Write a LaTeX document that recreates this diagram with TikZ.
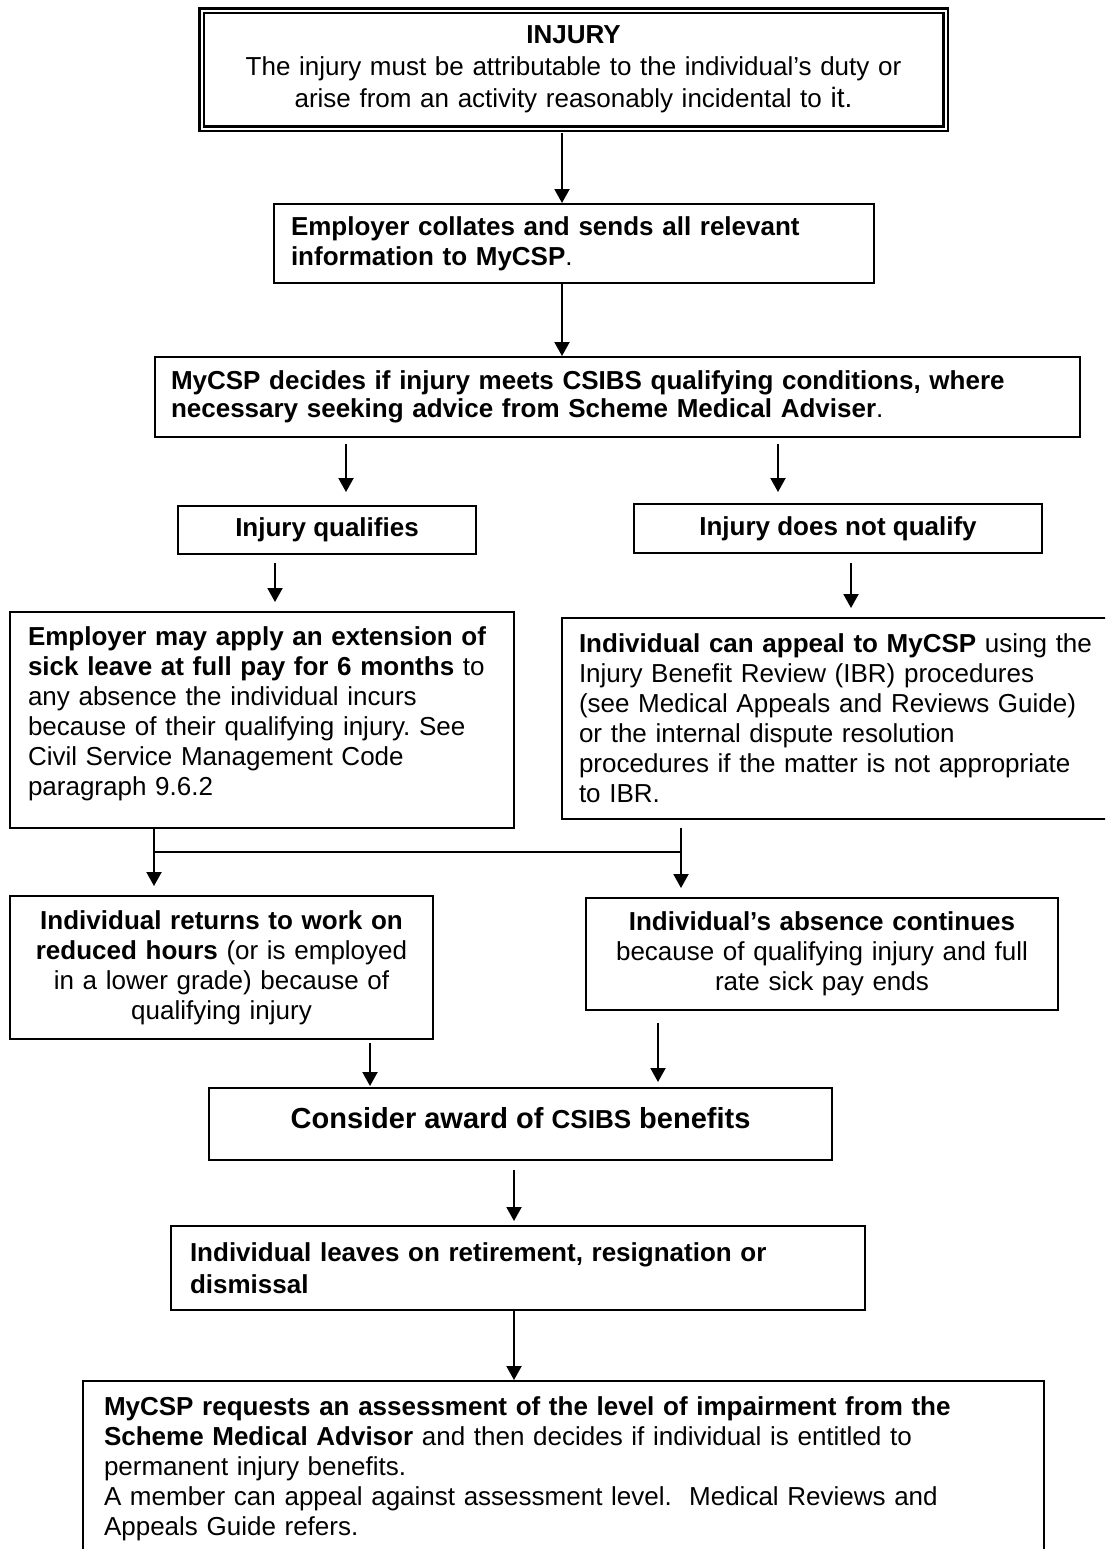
\documentclass[tikz,border=0pt]{standalone}
\usepackage{fontspec}
\setmainfont{Liberation Sans}
\usetikzlibrary{arrows.meta}
\frenchspacing

\tikzset{
	box/.style={draw, line width=1pt, inner ysep=0pt, font=\fontsize{13}{15}\selectfont},
	dbox/.style={box, double, double distance=1pt, line width=1.1pt},
}

\begin{document}
\begin{tikzpicture}[x=0.5pt, y=-0.5pt,
				>={Triangle[length=7pt,width=7.5pt]},   %Pfeilspitzen
				line width=1pt]
				% Bildbereich
				\useasboundingbox[fill=white] (0,0) rectangle (1105,1549);
				\clip (0,0) rectangle (1105,1549);
				% Spalten der Pfeile
				\foreach \n/\x in {c/562,l/346,r/778,ql/275,qr/851,jl/154,jr/681,cl/370,cr/658,m/514} \coordinate (\n) at (\x,0);
				\coordinate (fork) at (0,852);
				% Kaesten
				\node[dbox, text width=352pt, inner xsep=10pt, minimum height=59pt, align=center, font=\fontsize{13}{16}\selectfont] (injury) at (573.5,69.5)
					{\textbf{INJURY}\\The injury must be attributable to the individual’s duty or\\arise from an activity reasonably incidental to {\fontsize{14}{16}\selectfont it.}};
				\node[box, text width=283pt, inner xsep=8.5pt, minimum height=39.5pt, align=left] (collate) at (574,243.5)
					{\textbf{Employer collates and sends all relevant}\\\textbf{information to MyCSP}.};
				\node[box, text width=446.5pt, inner xsep=8pt, minimum height=40pt, align=left, font=\fontsize{13}{14}\selectfont] (decide) at (617.5,397)
					{\textbf{MyCSP decides if injury meets CSIBS qualifying conditions, where}\\\textbf{necessary seeking advice from Scheme Medical Adviser}.};
				\node[box, minimum width=149pt, minimum height=24pt, font=\fontsize{13}{15}\selectfont\bfseries] (qual) at (327,530) {Injury qualifies};
				\node[box, minimum width=204pt, minimum height=24.5pt, font=\fontsize{13}{15}\selectfont\bfseries] (notq) at (838,528.5) {Injury does not qualify};
				\node[box, text width=234pt, inner xsep=9pt, minimum height=108pt, align=left, text depth=83.7pt] (emp) at (262,720)
					{\textbf{Employer may apply an extension of}\\\textbf{sick leave at full pay for 6 months} to\\any absence the individual incurs\\because of their qualifying injury. See\\Civil Service Management Code\\paragraph 9.6.2};
				\node[box, text width=264.5pt, inner xsep=8.5pt, minimum height=100.5pt, align=left] (appeal) at (843.5,718.5)
					{\textbf{Individual can appeal to MyCSP} using the\\Injury Benefit Review (IBR) procedures\\(see Medical Appeals and Reviews Guide)\\or the internal dispute resolution\\procedures if the matter is not appropriate\\to IBR.};
				\node[box, text width=199.5pt, inner xsep=6pt, minimum height=71.5pt, align=center] (ret) at (221.5,967.5)
					{\textbf{Individual returns to work on}\\\textbf{reduced hours} (or is employed\\in a lower grade) because of\\qualifying injury};
				\node[box, text width=224pt, inner xsep=6pt, minimum height=56pt, align=center] (abs) at (822,954)
					{\textbf{Individual’s absence continues}\\because of qualifying injury and full\\rate sick pay ends};
				\node[box, minimum width=311.5pt, minimum height=36pt, text depth=6pt, font=\fontsize{14.5}{17}\selectfont\bfseries] (consider) at (520.5,1124)
					{Consider award of {\fontsize{13}{15}\selectfont CSIBS} benefits};
				\node[box, text width=328pt, inner xsep=9.5pt, minimum height=42pt, align=left, font=\fontsize{13}{16}\selectfont] (leaves) at (518,1268)
					{\textbf{Individual leaves on retirement, resignation or}\\\textbf{dismissal}};
				\node[box, anchor=north west, text width=459.5pt, inner xsep=10.5pt, inner ysep=8pt, text depth=80pt, align=left] (final) at (82,1380)
					{\textbf{MyCSP requests an assessment of the level of impairment from the}\\\textbf{Scheme Medical Advisor} and then decides if individual is entitled to\\permanent injury benefits.\\A member can appeal against assessment level.~ Medical Reviews and\\Appeals Guide refers.};
				% Pfeile
				\draw[->, shorten <=1.6pt] (injury.south -| c) -- (collate.north -| c);
				\draw[->] (collate.south -| c) -- (decide.north -| c);
				\draw[->, shorten <=3pt, shorten >=6.5pt] (decide.south -| l) -- (qual.north -| l);
				\draw[->, shorten <=3pt, shorten >=5.5pt] (decide.south -| r) -- (notq.north -| r);
				\draw[->, shorten <=4pt, shorten >=4.5pt] (qual.south -| ql) -- (emp.north -| ql);
				\draw[->, shorten <=4.5pt, shorten >=4.5pt] (notq.south -| qr) -- (appeal.north -| qr);
				% Verzweigung
				\draw (emp.south -| jl) -- (jl |- fork) -- (jr |- fork);
				\draw[shorten <=4pt] (appeal.south -| jr) -- (jr |- fork);
				\draw[->, shorten >=4.5pt] (jl |- fork) -- (ret.north -| jl);
				\draw[->, shorten >=4.5pt] (jr |- fork) -- (abs.north -| jr);
				\draw[->, shorten <=1.5pt, shorten >=0.5pt] (ret.south -| cl) -- (consider.north -| cl);
				\draw[->, shorten <=6pt, shorten >=2.5pt] (abs.south -| cr) -- (consider.north -| cr);
				\draw[->, shorten <=4.5pt, shorten >=2pt] (consider.south -| m) -- (leaves.north -| m);
				\draw[->] (leaves.south -| m) -- (final.north -| m);
			\end{tikzpicture}
\end{document}
